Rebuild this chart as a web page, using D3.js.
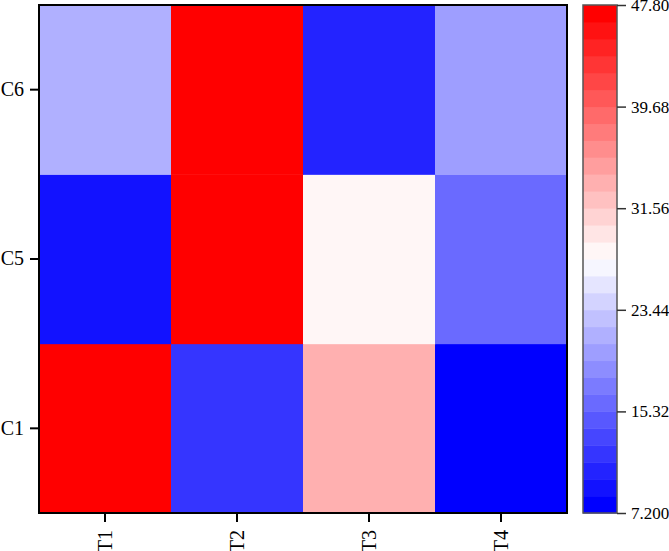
<!DOCTYPE html>
<html>
<head>
<meta charset="utf-8">
<script src="https://cdn.jsdelivr.net/npm/d3@7"></script>
<style>
  body { margin: 0; background: #fff; }
  svg { display: block; font-family: "Liberation Serif", "Times New Roman", serif; }
</style>
</head>
<body>
<svg></svg>
<script>
const width = 669;
const height = 551;

const cols = ["T1", "T2", "T3", "T4"];
const rows = ["C1", "C5", "C6"];
// one array per row, values for T1..T4
const c1Values = [47.2, 11.9, 33.6, 7.2];
const c5Values = [9.2, 46.9, 28.2, 16.0];
const c6Values = [21.4, 47.8, 10.6, 20.1];
const colorTicks = [7.2, 15.32, 23.44, 31.56, 39.68, 47.8];
const colorTickLabels = ["7.200", "15.32", "23.44", "31.56", "39.68", "47.80"];
const nLevels = 30;

const cells = [];
[c1Values, c5Values, c6Values].forEach(function (vals, r) {
  vals.forEach(function (v, c) {
    cells.push({row: rows[r], col: cols[c], value: v});
  });
});

const plot = {left: 39, top: 5, width: 528, height: 508};
const bar = {left: 583, width: 34};

// bwr colormap, sampled into discrete levels
function bwr(t) {
  if (t <= 0.5) {
    const k = Math.round(t * 2 * 255);
    return d3.rgb(k, k, 255).toString();
  }
  const k = Math.round((1 - t) * 2 * 255);
  return d3.rgb(255, k, k).toString();
}
const levelColors = d3.range(nLevels).map(function (i) { return bwr(i / (nLevels - 1)); });

const color = d3.scaleQuantize()
  .domain([7.2, 47.8])
  .range(levelColors);

const x = d3.scaleBand().domain(cols).range([plot.left, plot.left + plot.width]);
const y = d3.scaleBand().domain(rows).range([plot.top + plot.height, plot.top]);

const svg = d3.select("svg")
  .attr("width", width)
  .attr("height", height);

svg.append("g")
  .selectAll("rect")
  .data(cells)
  .enter().append("rect")
    .attr("x", function (d) { return x(d.col); })
    .attr("y", function (d) { return y(d.row); })
    .attr("width", x.bandwidth() + 0.5)
    .attr("height", y.bandwidth() + 0.5)
    .attr("fill", function (d) { return color(d.value); });

svg.append("rect")
  .attr("x", plot.left)
  .attr("y", plot.top)
  .attr("width", plot.width)
  .attr("height", plot.height)
  .attr("fill", "none")
  .attr("stroke", "#000")
  .attr("stroke-width", 2);

// axes
const xAxis = svg.append("g")
  .attr("transform", "translate(0," + (plot.top + plot.height) + ")")
  .call(d3.axisBottom(x).tickSizeOuter(0).tickSize(9));
xAxis.select(".domain").remove();
xAxis.selectAll(".tick text")
  .attr("transform", "rotate(-90)")
  .attr("x", -17)
  .attr("y", 0)
  .attr("dy", "0.35em")
  .style("text-anchor", "end");

const yAxis = svg.append("g")
  .attr("transform", "translate(" + plot.left + ",0)")
  .call(d3.axisLeft(y).tickSizeOuter(0).tickSize(9).tickPadding(6));
yAxis.select(".domain").remove();

[xAxis, yAxis].forEach(function (g) {
  g.selectAll(".tick line").attr("stroke", "#000").attr("stroke-width", 2);
  g.selectAll(".tick text")
    .attr("fill", "#000")
    .style("font-family", "'Liberation Serif', serif")
    .style("font-size", "20px");
});

// colorbar
const cbY = d3.scaleLinear().domain([7.2, 47.8]).range([plot.top + plot.height, plot.top]);
const step = (47.8 - 7.2) / nLevels;

svg.append("g")
  .selectAll("rect")
  .data(d3.range(nLevels))
  .enter().append("rect")
    .attr("x", bar.left)
    .attr("y", function (i) { return cbY(7.2 + (i + 1) * step); })
    .attr("width", bar.width)
    .attr("height", function (i) { return cbY(7.2 + i * step) - cbY(7.2 + (i + 1) * step) + 0.5; })
    .attr("fill", function (i) { return color(7.2 + (i + 0.5) * step); });

svg.append("rect")
  .attr("x", bar.left)
  .attr("y", plot.top)
  .attr("width", bar.width)
  .attr("height", plot.height)
  .attr("fill", "none")
  .attr("stroke", "#555")
  .attr("stroke-width", 1.5);

const cbAxis = svg.append("g")
  .attr("transform", "translate(" + (bar.left + bar.width) + ",0)")
  .call(d3.axisRight(cbY)
    .tickValues(colorTicks)
    .tickFormat(function (d, i) { return colorTickLabels[i]; })
    .tickSize(9)
    .tickPadding(5));
cbAxis.select(".domain").remove();
cbAxis.selectAll(".tick line").attr("stroke", "#333").attr("stroke-width", 1.5);
cbAxis.selectAll(".tick text")
  .attr("fill", "#000")
  .style("font-family", "'Liberation Serif', serif")
  .style("font-size", "17px");
</script>
</body>
</html>
